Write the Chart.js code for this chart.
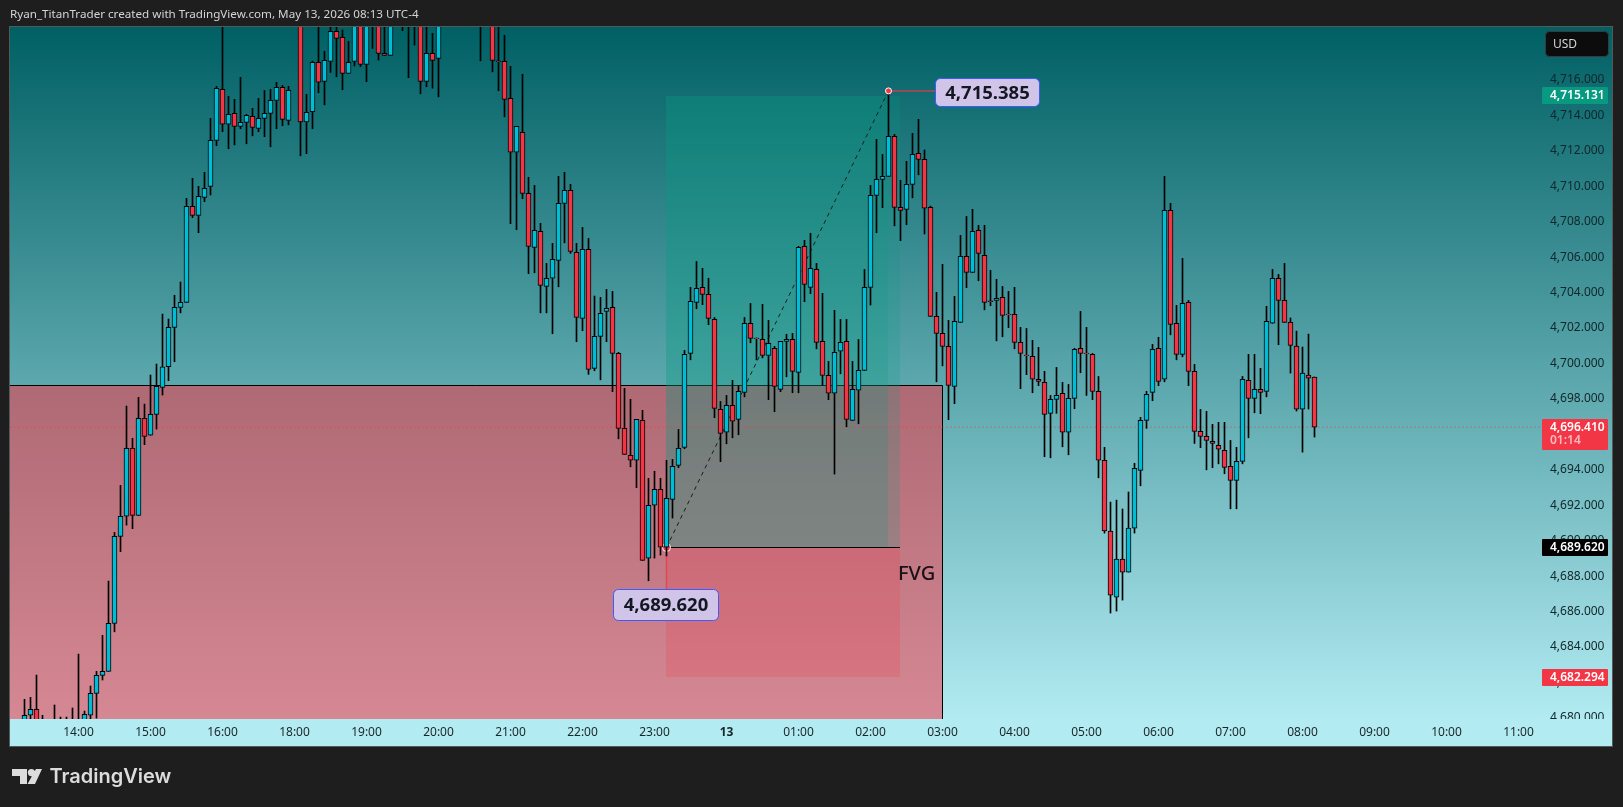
<!DOCTYPE html>
<html>
<head>
<meta charset="utf-8">
<title>Chart</title>
<script src="https://cdn.jsdelivr.net/npm/chart.js@4"></script>
<style>
  html, body { margin: 0; padding: 0; background: #1e1e1e; }
  canvas { display: block; }
</style>
</head>
<body>
<canvas id="chart" width="1623" height="807"></canvas>
<script>
// 5 minute candles, index 0 is the 14:00 candle
const firstIndex = -9;
const opens = [
  4679.60,4680.15,4680.48,4679.60,4679.30,4679.30,4679.60,4679.30,4679.50,4679.60,
  4679.43,4680.15,4681.39,4682.40,4682.63,4685.34,4690.25,4691.38,4695.21,4691.43,
  4696.91,4695.95,4697.13,4698.65,4699.82,4702.04,4703.17,4703.45,4708.87,4708.36,
  4709.38,4710.00,4712.59,4715.47,4713.50,4714.12,4713.38,4713.61,4713.95,4713.27,
  4713.83,4714.12,4714.85,4715.58,4713.72,4720.60,4720.90,4713.64,4714.21,4716.99,
  4715.92,4717.05,4718.74,4718.41,4716.37,4717.05,4719.38,4716.88,4719.30,4720.00,
  4717.50,4717.39,4720.00,4720.30,4720.10,4719.80,4720.20,4715.92,4717.50,4717.22,
  4720.00,4720.50,4720.20,4720.60,4720.30,4720.40,4720.20,4720.00,4720.10,4717.08,
  4717.05,4714.96,4711.92,4713.04,4709.60,4706.55,4707.46,4704.35,4704.81,4705.82,
  4709.04,4709.77,4706.27,4702.55,4706.44,4699.73,4701.53,4702.94,4703.17,4700.57,
  4696.34,4694.82,4694.54,4696.79,4689.01,4692.00,4692.90,4689.63,4692.33,4694.25,
  4695.27,4700.57,4703.45,4704.30,4703.90,4702.49,4697.41,4696.12,4697.64,4696.85,
  4698.37,4702.27,4701.44,4701.36,4700.46,4700.86,4698.54,4701.25,4701.36,4699.50,
  4706.61,4704.30,4705.31,4701.25,4699.33,4698.32,4700.69,4701.25,4696.79,4698.49,
  4699.61,4704.30,4709.49,4710.39,4710.56,4712.82,4708.81,4708.70,4710.11,4711.86,
  4711.52,4708.81,4702.66,4701.70,4700.97,4698.71,4702.32,4706.05,4705.14,4707.51,
  4706.10,4703.54,4703.56,4703.73,4702.79,4702.77,4701.19,4700.48,4700.40,4699.11,
  4698.94,4697.19,4697.98,4698.32,4696.12,4698.03,4700.86,4700.59,4700.52,4698.43,
  4694.54,4690.55,4686.82,4688.97,4688.23,4690.71,4693.97,4696.79,4698.37,4700.86,
  4699.11,4708.64,4702.27,4700.52,4703.45,4699.56,4696.17,4695.89,4695.61,4695.38,
  4695.10,4694.20,4693.41,4694.48,4699.05,4698.03,4698.54,4698.43,4702.27,4704.81,
  4703.56,4702.32,4700.99,4697.43,4699.35,4699.24
];
const highs = [
  4681.05,4681.16,4682.42,4680.15,4679.77,4680.73,4680.05,4680.05,4680.56,4683.60,
  4680.39,4681.80,4682.63,4684.66,4687.72,4690.47,4693.12,4697.60,4695.78,4698.09,
  4697.71,4699.35,4699.97,4702.79,4702.51,4703.85,4704.60,4709.32,4710.45,4710.00,
  4710.79,4713.83,4715.64,4719.38,4715.08,4714.91,4716.15,4714.06,4714.40,4714.96,
  4715.41,4715.47,4715.87,4715.70,4715.64,4721.50,4721.20,4715.19,4717.07,4719.16,
  4717.62,4719.27,4719.04,4718.82,4718.18,4719.60,4719.80,4719.90,4720.40,4720.30,
  4719.80,4720.50,4720.60,4720.80,4720.90,4720.70,4720.90,4719.70,4718.63,4720.40,
  4720.90,4721.10,4720.80,4721.20,4720.90,4721.00,4720.80,4720.50,4720.60,4719.80,
  4718.52,4716.77,4713.38,4716.32,4710.51,4710.05,4707.91,4705.65,4706.78,4710.56,
  4710.79,4710.11,4706.78,4707.68,4707.06,4703.81,4703.73,4704.18,4704.07,4700.63,
  4698.60,4697.98,4696.85,4697.36,4693.52,4693.92,4693.52,4694.54,4694.59,4696.28,
  4700.74,4704.30,4705.76,4705.37,4704.81,4702.60,4697.86,4698.20,4699.05,4698.77,
  4702.60,4703.39,4701.44,4703.34,4702.44,4700.97,4701.25,4701.65,4701.70,4706.61,
  4706.95,4707.35,4705.65,4703.96,4700.12,4703.00,4702.49,4702.49,4700.12,4701.36,
  4705.31,4710.05,4712.65,4711.80,4715.39,4712.93,4710.34,4711.41,4712.99,4713.78,
  4712.05,4708.89,4704.02,4705.60,4702.44,4703.79,4707.23,4708.30,4708.70,4707.80,
  4707.80,4705.26,4704.75,4704.35,4704.07,4704.30,4702.04,4701.98,4701.31,4700.91,
  4699.56,4698.20,4699.78,4698.94,4698.82,4700.86,4702.94,4702.04,4700.57,4699.27,
  4695.27,4692.18,4692.29,4691.79,4692.75,4694.37,4696.96,4698.43,4701.08,4701.48,
  4710.56,4709.04,4703.28,4705.93,4703.56,4699.95,4697.41,4697.30,4696.57,4696.68,
  4696.68,4695.66,4695.27,4699.27,4700.52,4700.52,4699.73,4703.23,4705.31,4705.03,
  4705.65,4702.57,4701.83,4700.93,4701.66,4699.24
];
const lows = [
  4679.32,4679.77,4679.43,4679.10,4679.00,4679.00,4679.00,4679.00,4679.10,4679.00,
  4679.10,4679.77,4679.99,4682.14,4682.63,4684.86,4689.38,4690.88,4690.68,4691.43,
  4695.42,4695.95,4696.30,4698.22,4699.03,4700.10,4702.86,4703.45,4708.23,4707.38,
  4709.13,4709.51,4712.29,4713.08,4712.12,4712.34,4713.25,4712.40,4712.85,4713.08,
  4712.80,4712.23,4713.25,4713.42,4713.47,4719.80,4711.72,4711.84,4713.25,4715.28,
  4714.60,4716.43,4716.18,4715.45,4716.37,4716.79,4716.75,4715.90,4717.78,4717.12,
  4717.39,4717.39,4719.30,4718.78,4716.13,4717.97,4715.22,4715.62,4715.54,4715.05,
  4719.50,4720.00,4719.70,4720.10,4719.80,4719.60,4717.08,4719.40,4716.46,4715.39,
  4713.92,4707.89,4707.55,4709.30,4705.07,4705.12,4702.86,4702.86,4701.68,4704.33,
  4706.81,4706.22,4701.23,4701.85,4699.39,4699.59,4699.08,4701.23,4698.41,4695.75,
  4694.87,4694.17,4692.99,4688.89,4687.74,4689.02,4689.19,4689.14,4691.28,4694.12,
  4695.19,4700.21,4703.09,4703.32,4702.19,4696.94,4694.46,4695.47,4695.81,4695.98,
  4698.12,4701.17,4700.21,4700.32,4697.96,4697.28,4698.41,4699.25,4698.35,4698.35,
  4703.49,4703.94,4700.83,4698.77,4697.96,4693.76,4699.42,4696.43,4696.79,4696.60,
  4699.61,4703.30,4707.38,4708.79,4710.56,4707.77,4706.93,4707.83,4709.35,4710.65,
  4707.31,4702.66,4698.97,4699.87,4696.83,4697.73,4702.32,4704.28,4705.14,4704.67,
  4703.03,4703.26,4701.28,4701.51,4702.02,4700.83,4698.58,4699.37,4698.35,4698.75,
  4694.74,4694.68,4697.19,4695.30,4694.85,4697.45,4699.48,4698.20,4697.96,4693.55,
  4690.43,4685.92,4686.03,4686.65,4688.23,4690.43,4693.10,4696.34,4697.90,4698.75,
  4698.97,4701.62,4700.21,4700.38,4698.75,4695.49,4695.25,4694.00,4694.12,4694.34,
  4693.78,4691.80,4691.80,4694.34,4695.81,4697.22,4697.17,4698.12,4702.27,4701.06,
  4702.32,4699.46,4697.32,4695.00,4697.43,4695.85
];
const closes = [
  4680.15,4680.48,4679.65,4679.40,4679.60,4679.60,4679.30,4679.50,4679.60,4679.40,
  4680.20,4681.39,4682.40,4682.63,4685.34,4690.25,4691.38,4695.21,4691.43,4696.91,
  4695.89,4697.13,4698.71,4699.82,4702.04,4703.17,4703.45,4708.87,4708.36,4709.43,
  4709.88,4712.59,4715.53,4713.50,4714.06,4713.38,4713.61,4714.00,4713.33,4713.83,
  4714.12,4714.85,4715.58,4713.78,4715.41,4720.90,4713.64,4714.17,4716.99,4715.87,
  4717.11,4718.74,4718.35,4716.37,4716.99,4719.27,4716.88,4719.30,4720.00,4717.50,
  4717.39,4720.00,4720.30,4720.10,4719.80,4720.20,4715.92,4717.50,4717.11,4720.00,
  4720.50,4720.20,4720.60,4720.30,4720.40,4720.20,4720.00,4720.10,4717.11,4717.03,
  4714.91,4711.92,4713.38,4709.60,4706.61,4707.51,4704.41,4704.81,4705.88,4709.04,
  4709.77,4706.33,4702.60,4706.44,4699.67,4701.53,4702.83,4703.11,4700.57,4696.34,
  4694.87,4694.54,4696.85,4688.89,4692.00,4692.90,4689.63,4692.39,4694.20,4695.21,
  4700.52,4703.51,4704.24,4703.90,4702.55,4697.47,4696.06,4697.64,4696.74,4698.43,
  4702.27,4701.42,4701.40,4700.46,4701.14,4698.71,4701.25,4701.36,4699.56,4706.55,
  4704.47,4705.37,4701.19,4699.33,4698.32,4700.63,4701.19,4696.85,4698.54,4699.61,
  4704.30,4709.49,4710.39,4710.56,4712.82,4708.81,4708.64,4710.11,4711.80,4711.52,
  4708.76,4702.66,4701.70,4700.97,4698.77,4702.38,4706.05,4705.14,4707.46,4706.22,
  4703.45,4703.49,4703.68,4702.72,4702.75,4701.19,4700.57,4700.44,4699.11,4698.99,
  4697.13,4697.98,4698.20,4696.12,4698.03,4700.80,4700.57,4700.55,4698.43,4694.54,
  4690.55,4686.93,4688.97,4688.23,4690.71,4694.08,4696.79,4698.26,4700.80,4698.99,
  4708.64,4702.21,4700.52,4703.39,4699.56,4696.17,4695.89,4695.66,4695.49,4695.16,
  4694.14,4693.41,4694.48,4699.11,4698.03,4698.54,4698.37,4702.38,4704.81,4703.56,
  4702.32,4701.02,4697.43,4699.46,4699.18,4696.41
];

const priceTicks = [4716,4714,4712,4710,4708,4706,4704,4702,4700,4698,4696,4694,4692,4690,4688,4686,4684,4682,4680];
const timeTicks = [0,12,24,36,48,60,72,84,96,108,120,132,144,156,168,180,192,204,216,228,240];
const timeLabels = ['14:00','15:00','16:00','18:00','19:00','20:00','21:00','22:00','23:00','13',
  '01:00','02:00','03:00','04:00','05:00','06:00','07:00','08:00','09:00','10:00','11:00'];

// levels of the drawings on the chart
const lastPrice = 4696.41;
const entryPrice = 4689.62;
const targetPrice = 4715.131;
const stopPrice = 4682.294;
const peakPrice = 4715.385;
const fvgTop = 4698.77;
const entryIndex = 98, peakIndex = 135, boxEndIndex = 137, fvgEndIndex = 144;

const BLUE = '#00bcd4';
const RED = '#f23645';
const UI_FONT = '"Noto Sans"';

const indexes = opens.map(function (o, i) { return firstIndex + i; });
const wickData = indexes.map(function (x, i) { return { x: x, y: [lows[i], highs[i]] }; });
const bodyData = indexes.map(function (x, i) { return { x: x, y: [opens[i], closes[i]] }; });
const bodyColors = opens.map(function (o, i) { return closes[i] >= o ? BLUE : RED; });

function pill(ctx, x, y, w, h, r, fill, stroke) {
    ctx.beginPath();
    ctx.roundRect(x, y, w, h, r);
    ctx.fillStyle = fill;
    ctx.fill();
    if (stroke) {
        ctx.strokeStyle = stroke;
        ctx.lineWidth = 1;
        ctx.stroke();
    }
}

function label(ctx, text, x, y, font, color, align) {
    ctx.font = font;
    ctx.fillStyle = color;
    ctx.textAlign = align || 'left';
    ctx.textBaseline = 'middle';
    ctx.fillText(text, x, y);
}

const backgroundPlugin = {
    id: 'background',
    beforeDraw: function (chart) {
        const ctx = chart.ctx;
        ctx.save();
        ctx.fillStyle = '#1e1e1e';
        ctx.fillRect(0, 0, 1623, 807);
        const g = ctx.createLinearGradient(0, 27, 0, 719);
        g.addColorStop(0, '#006064');
        g.addColorStop(1, '#b2ebf2');
        ctx.fillStyle = g;
        ctx.fillRect(10, 27, 1602, 692);
        ctx.restore();
    },
    beforeDatasetsDraw: function (chart) {
        const ctx = chart.ctx, xs = chart.scales.x, ys = chart.scales.y, area = chart.chartArea;
        const px = function (v) { return Math.floor(xs.getPixelForValue(v)); };
        const py = function (v) { return Math.round(ys.getPixelForValue(v)); };
        ctx.save();

        // time axis strip, hides the lower half of the 4,680 label
        ctx.fillStyle = '#b2ebf2';
        ctx.fillRect(10, 719, 1602, 27);
        ctx.strokeStyle = '#525a5a';
        ctx.lineWidth = 1;
        ctx.strokeRect(9.5, 26.5, 1603, 720);

        ctx.beginPath();
        ctx.rect(area.left, area.top, area.right - area.left, area.bottom - area.top);
        ctx.clip();

        // fvg zone
        const fvgRight = px(fvgEndIndex) + 0.5, fvgY = py(fvgTop) + 0.5;
        ctx.fillStyle = 'rgba(242,54,69,0.55)';
        ctx.fillRect(area.left, fvgY, fvgRight - area.left, area.bottom - fvgY);
        ctx.strokeStyle = '#000000';
        ctx.lineWidth = 1;
        ctx.beginPath();
        ctx.moveTo(area.left, fvgY);
        ctx.lineTo(fvgRight, fvgY);
        ctx.lineTo(fvgRight, area.bottom);
        ctx.stroke();

        // long position tool
        const left = px(entryIndex), right = px(boxEndIndex), mid = px(peakIndex);
        const top = Math.ceil(ys.getPixelForValue(targetPrice)), entry = py(entryPrice), stop = py(stopPrice);
        ctx.fillStyle = 'rgba(8,153,129,0.2)';
        ctx.fillRect(left, top, right - left, entry - top);
        ctx.fillRect(left, top, mid - left, entry - top);
        ctx.fillStyle = 'rgba(242,54,69,0.2)';
        ctx.fillRect(left, entry, right - left, stop - entry);
        ctx.strokeStyle = '#000000';
        ctx.beginPath();
        ctx.moveTo(left, entry + 0.5);
        ctx.lineTo(right, entry + 0.5);
        ctx.stroke();

        // connectors to the price callouts
        ctx.strokeStyle = 'rgba(242,54,69,0.75)';
        ctx.lineWidth = 1.5;
        ctx.beginPath();
        ctx.moveTo(px(peakIndex), py(peakPrice));
        ctx.lineTo(936, py(peakPrice));
        ctx.moveTo(left + 0.5, entry + 4);
        ctx.lineTo(left + 0.5, 590);
        ctx.stroke();
        ctx.restore();
    },
    afterDraw: function (chart) {
        const ctx = chart.ctx, ys = chart.scales.y;
        ctx.save();

        label(ctx, 'Ryan_TitanTrader created with TradingView.com, May 13, 2026 08:13 UTC-4', 10, 15, '11.65px ' + UI_FONT, '#d4d4d4');

        // price axis tags
        pill(ctx, 1545.5, 31.5, 63, 25, 4, '#0c0c0c', '#3a3a3a');
        label(ctx, 'USD', 1553, 44.5, '12px ' + UI_FONT, '#d4d4d4');

        const tags = [
            [targetPrice, '4,715.131', '#089981', 17],
            [entryPrice, '4,689.620', '#000000', 17],
            [stopPrice, '4,682.294', '#f23645', 17]
        ];
        tags.forEach(function (t) {
            const y = ys.getPixelForValue(t[0]);
            pill(ctx, 1542, Math.round(y - 8.5), 66, t[3], 1, t[2]);
            label(ctx, t[1], 1550, y + 0.5, '600 12px ' + UI_FONT, '#ffffff');
        });
        pill(ctx, 1542, 419, 66, 31, 1, '#f23645');
        label(ctx, '4,696.410', 1550, 427.5, '600 12px ' + UI_FONT, '#ffffff');
        label(ctx, '01:14', 1550, 441, '600 12px ' + UI_FONT, 'rgba(255,255,255,0.65)');

        // price callouts
        pill(ctx, 935.5, 78.5, 104, 28, 5, '#d1c4e9', '#3d5afe');
        label(ctx, '4,715.385', 987.5, 93.5, '700 18.5px ' + UI_FONT, '#131722', 'center');
        pill(ctx, 613.5, 589.5, 105, 31, 5, '#d1c4e9', '#3d5afe');
        label(ctx, '4,689.620', 666, 606, '700 18.5px ' + UI_FONT, '#131722', 'center');
        label(ctx, 'FVG', 898, 574, '500 20px ' + UI_FONT, '#1a1114');

        // TradingView logo
        ctx.fillStyle = '#dcdcdc';
        ctx.beginPath();
        ctx.moveTo(12, 769); ctx.lineTo(27, 769); ctx.lineTo(27, 784); ctx.lineTo(20, 784);
        ctx.lineTo(20, 776); ctx.lineTo(12, 776); ctx.closePath();
        ctx.moveTo(35, 772.6);
        ctx.arc(31.4, 772.6, 3.6, 0, Math.PI * 2);
        ctx.closePath();
        ctx.moveTo(36, 769); ctx.lineTo(42, 769); ctx.lineTo(35, 784); ctx.lineTo(27.5, 784); ctx.closePath();
        ctx.fill();
        label(ctx, 'TradingView', 49.5, 777, '600 20px Inter', '#dcdcdc');
        ctx.restore();
    }
};

new Chart(document.getElementById('chart'), {
    type: 'bar',
    plugins: [backgroundPlugin],
    data: {
        datasets: [
            // peak marker, on top of the candles
            {
                type: 'line', order: 0, showLine: false,
                data: [{ x: peakIndex, y: peakPrice }],
                pointRadius: 3, pointBackgroundColor: RED, pointBorderColor: '#ffffff', pointBorderWidth: 1
            },
            { data: bodyData, order: 1, grouped: false, barThickness: 5, backgroundColor: bodyColors, borderColor: '#000000', borderWidth: 1, borderSkipped: false },
            { data: wickData, order: 2, grouped: false, barThickness: 1, backgroundColor: '#000000', borderWidth: 0 },
            // diagonal from the entry to the peak, entry marker sits behind the candles
            {
                type: 'line', order: 3,
                data: [{ x: entryIndex, y: entryPrice }, { x: peakIndex, y: peakPrice }],
                borderColor: '#1c1c1c', borderWidth: 1, borderDash: [4, 4],
                pointRadius: [4, 0], pointBackgroundColor: RED, pointBorderColor: '#ffffff', pointBorderWidth: 1
            },
            // last price line
            {
                type: 'line', order: 4,
                data: [{ x: -12, y: lastPrice }, { x: 244, y: lastPrice }],
                borderColor: RED, borderWidth: 1, borderDash: [1, 3], pointRadius: 0
            }
        ]
    },
    options: {
        responsive: false,
        animation: false,
        devicePixelRatio: 1,
        events: [],
        layout: { padding: { left: 10, top: 27, right: 11, bottom: 60 } },
        plugins: { legend: { display: false }, tooltip: { enabled: false } },
        scales: {
            x: {
                type: 'linear',
                offset: false,
                min: -11.41667,
                max: 243.75,
                grid: { display: false, drawTicks: false },
                border: { display: false },
                ticks: {
                    z: 1,
                    autoSkip: false,
                    maxRotation: 0,
                    padding: 6,
                    color: '#1b2528',
                    font: function (ctx) {
                        return { family: UI_FONT, size: 12, weight: ctx.tick && ctx.tick.value === 108 ? '700' : '400' };
                    },
                    callback: function (v) {
                        return timeLabels[timeTicks.indexOf(v)];
                    }
                },
                afterBuildTicks: function (scale) {
                    scale.ticks = timeTicks.map(function (v) { return { value: v }; });
                },
                afterFit: function (scale) { scale.height = 28; }
            },
            y: {
                position: 'right',
                min: 4679.94,
                max: 4718.99,
                grid: { display: false, drawTicks: false },
                border: { display: false },
                ticks: {
                    autoSkip: false,
                    padding: 9,
                    color: '#10262a',
                    font: { family: UI_FONT, size: 12 },
                    callback: function (v) {
                        return v.toLocaleString('en-US', { minimumFractionDigits: 3, maximumFractionDigits: 3 });
                    }
                },
                afterBuildTicks: function (scale) {
                    scale.ticks = priceTicks.map(function (v) { return { value: v }; });
                },
                afterFit: function (scale) { scale.width = 71; }
            }
        }
    }
});
</script>
</body>
</html>
